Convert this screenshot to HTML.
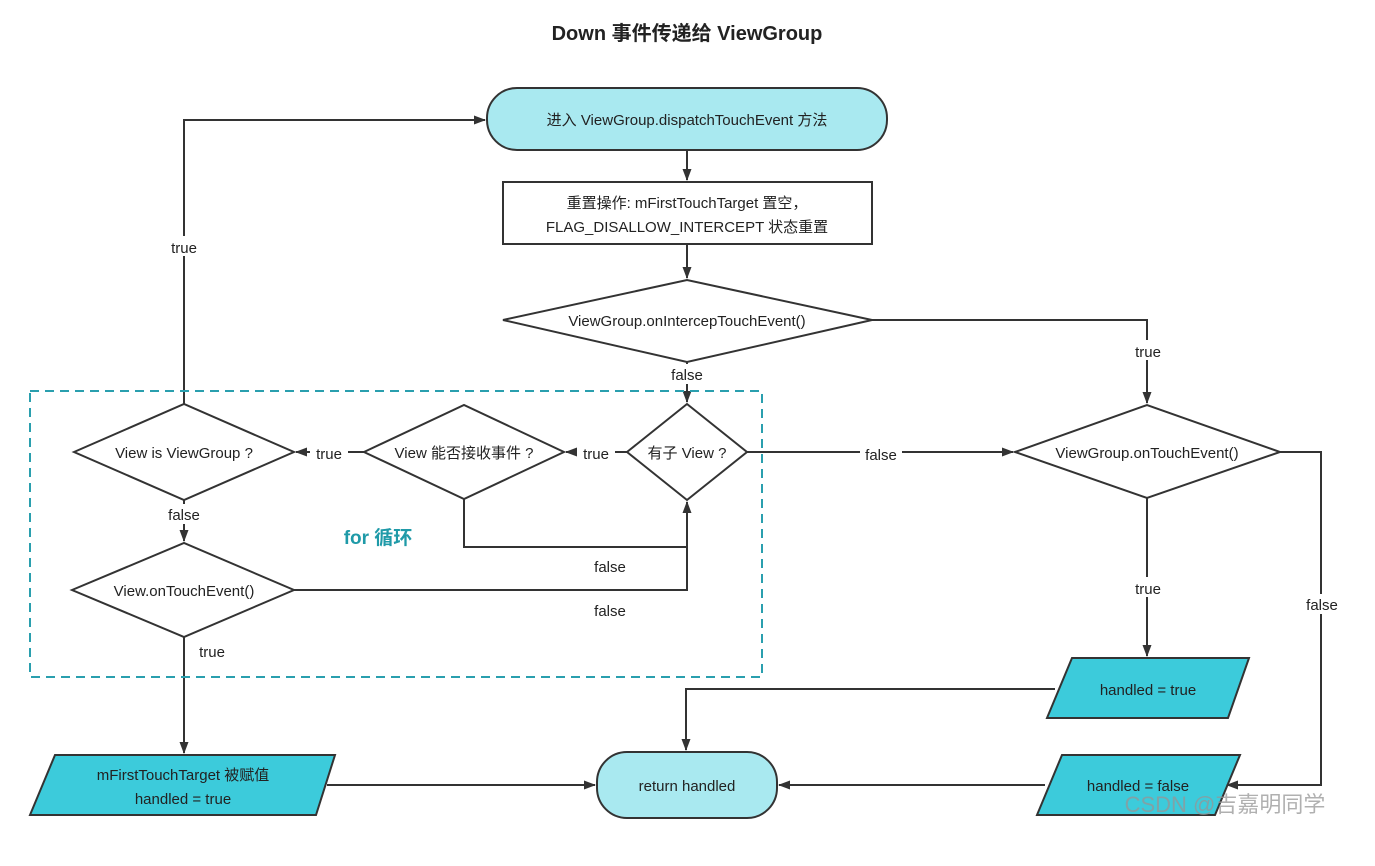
<!DOCTYPE html>
<html><head><meta charset="utf-8"><style>
html,body{margin:0;padding:0;background:#fff;}
svg text{font-family:"Liberation Sans","Noto Sans CJK SC",sans-serif;fill:#222;}
</style></head><body>
<svg width="1375" height="861" viewBox="0 0 1375 861" xmlns="http://www.w3.org/2000/svg">
<defs><marker id="a" markerWidth="12" markerHeight="12" refX="11" refY="6" orient="auto" markerUnits="userSpaceOnUse"><path d="M0,1.5 L12,6 L0,10.5 z" fill="#333"/></marker></defs>
<text x="687" y="40" text-anchor="middle" font-size="20" font-weight="bold" fill="#333">Down 事件传递给 ViewGroup</text>
<g stroke="#333" stroke-width="2" fill="none">
<rect x="487" y="88" width="400" height="62" rx="30" fill="#a9e9f0"/>
<rect x="503" y="182" width="369" height="62" fill="#fff"/>
<polygon points="503,320 687,280 872,320 687,362" fill="#fff"/>
<polygon points="627,452 687,404 747,452 687,500" fill="#fff"/>
<polygon points="364,452 464,405 564,452 464,499" fill="#fff"/>
<polygon points="74,452 184,404 294,452 184,500" fill="#fff"/>
<polygon points="72,590 184,543 294,590 184,637" fill="#fff"/>
<polygon points="1015,452 1147,405 1280,452 1147,498" fill="#fff"/>
<polygon points="1072,658 1249,658 1228,718 1047,718" fill="#3ccbdb"/>
<polygon points="1062,755 1240,755 1215,815 1037,815" fill="#3ccbdb"/>
<polygon points="55,755 335,755 316,815 30,815" fill="#3ccbdb"/>
<rect x="597" y="752" width="180" height="66" rx="30" fill="#a9e9f0"/>
<path d="M687,150 V180" marker-end="url(#a)"/>
<path d="M687,244 V278" marker-end="url(#a)"/>
<path d="M872,320 H1147 V403" marker-end="url(#a)"/>
<path d="M687,362 V402" marker-end="url(#a)"/>
<path d="M627,452 H566" marker-end="url(#a)"/>
<path d="M364,452 H296" marker-end="url(#a)"/>
<path d="M184,404 V120 H485" marker-end="url(#a)"/>
<path d="M184,500 V541" marker-end="url(#a)"/>
<path d="M464,499 V547 H687 V502" marker-end="url(#a)"/>
<path d="M294,590 H687 V548"/>
<path d="M184,637 V753" marker-end="url(#a)"/>
<path d="M747,452 H1013" marker-end="url(#a)"/>
<path d="M1147,498 V656" marker-end="url(#a)"/>
<path d="M1280,452 H1321 V785 H1227" marker-end="url(#a)"/>
<path d="M1055,689 H686 V750" marker-end="url(#a)"/>
<path d="M1045,785 H779" marker-end="url(#a)"/>
<path d="M327,785 H595" marker-end="url(#a)"/>
</g>
<rect x="30" y="391" width="732" height="286" fill="none" stroke="#2a9fae" stroke-width="2" stroke-dasharray="9,6"/>
<g font-size="15" text-anchor="middle">
<text x="687" y="125">进入 ViewGroup.dispatchTouchEvent 方法</text>
<text x="687" y="208">重置操作: mFirstTouchTarget 置空，</text>
<text x="687" y="232">FLAG_DISALLOW_INTERCEPT 状态重置</text>
<text x="687" y="326">ViewGroup.onIntercepTouchEvent()</text>
<text x="687" y="458">有子 View ?</text>
<text x="464" y="458">View 能否接收事件 ?</text>
<text x="184" y="458">View is ViewGroup ?</text>
<text x="184" y="596">View.onTouchEvent()</text>
<text x="1147" y="458">ViewGroup.onTouchEvent()</text>
<text x="1148" y="695">handled = true</text>
<text x="1138" y="791">handled = false</text>
<text x="183" y="780">mFirstTouchTarget 被赋值</text>
<text x="183" y="804">handled = true</text>
<text x="687" y="791">return handled</text>
</g>
<g font-size="15" text-anchor="middle">
<rect x="165" y="236" width="38" height="20" fill="#fff"/><text x="184" y="253">true</text>
<rect x="1130" y="340" width="36" height="20" fill="#fff"/><text x="1148" y="357">true</text>
<rect x="668" y="364" width="40" height="20" fill="#fff"/><text x="687" y="380">false</text>
<rect x="577" y="443" width="38" height="20" fill="#fff"/><text x="596" y="459">true</text>
<rect x="310" y="443" width="38" height="20" fill="#fff"/><text x="329" y="459">true</text>
<rect x="164" y="504" width="40" height="20" fill="#fff"/><text x="184" y="520">false</text>
<text x="610" y="572">false</text>
<text x="610" y="616">false</text>
<text x="212" y="657">true</text>
<rect x="860" y="443" width="42" height="20" fill="#fff"/><text x="881" y="460">false</text>
<rect x="1128" y="577" width="40" height="20" fill="#fff"/><text x="1148" y="594">true</text>
<rect x="1301" y="594" width="42" height="20" fill="#fff"/><text x="1322" y="610">false</text>
</g>
<text x="378" y="544" text-anchor="middle" font-size="19" font-weight="bold" style="fill:#1f9aa8">for 循环</text>
<text x="1225" y="812" text-anchor="middle" font-size="22" style="fill:rgba(150,150,150,0.75)">CSDN @吉嘉明同学</text>
</svg>
</body></html>
